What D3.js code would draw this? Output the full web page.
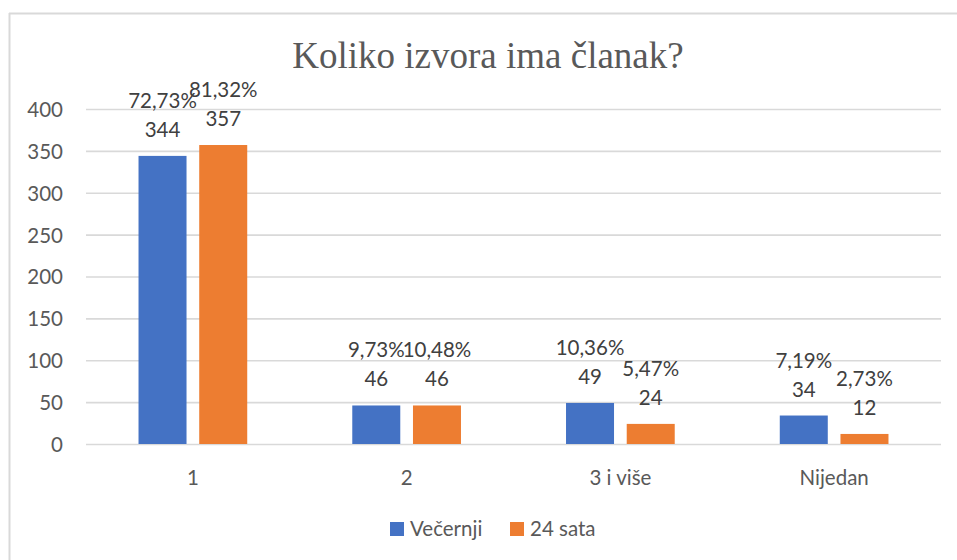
<!DOCTYPE html>
<html><head><meta charset="utf-8">
<script src="https://cdn.jsdelivr.net/npm/d3@7"></script>
<style>html,body{margin:0;padding:0;background:#fff;}svg{display:block;}</style>
</head><body>
<script>
const categories = ["1", "2", "3 i više", "Nijedan"];
const seriesNames = ["Večernji", "24 sata"];
const vecernjiValues = [344, 46, 49, 34];
const sataValues = [357, 46, 24, 12];
const vecernjiPct = ["72,73%", "9,73%", "10,36%", "7,19%"];
const sataPct = ["81,32%", "10,48%", "5,47%", "2,73%"];
const yTicks = [0, 50, 100, 150, 200, 250, 300, 350, 400];
const colors = ["#4472C4", "#ED7D31"];

const W = 957, H = 560;
const svg = d3.select("body").append("svg").attr("width", W).attr("height", H);
const font = "Lato, 'Open Sans', sans-serif";
const fs = 20.5;
const textColor = "#595959";

// chart border (top and left visible)
svg.append("line").attr("x1", 9).attr("x2", W).attr("y1", 13.5).attr("y2", 13.5).attr("stroke", "#D9D9D9").attr("stroke-width", 2);
svg.append("line").attr("x1", 9.5).attr("x2", 9.5).attr("y1", 13).attr("y2", H).attr("stroke", "#D9D9D9").attr("stroke-width", 2);

const plot = {left: 86, right: 941, top: 109, bottom: 444};
const x = d3.scaleBand().domain(categories).range([plot.left, plot.right]).paddingInner(0).paddingOuter(0);
const y = d3.scaleLinear().domain([0, 400]).range([plot.bottom, plot.top]);
const barW = 48, gap = 12.7;

svg.append("text").attr("x", 488).attr("y", 68).attr("text-anchor", "middle")
  .attr("font-family", "'Liberation Serif', 'Times New Roman', serif").attr("font-size", 37)
  .attr("fill", textColor).text("Koliko izvora ima članak?");

// gridlines
const yAxis = d3.axisLeft(y).tickValues(yTicks).tickSize(-(plot.right - plot.left)).tickPadding(23);
const ga = svg.append("g").attr("transform", `translate(${plot.left},0)`).call(yAxis);
ga.select(".domain").remove();
ga.selectAll(".tick line").attr("stroke", "#D9D9D9").attr("stroke-width", 1.6);
ga.selectAll(".tick text").attr("font-family", font).attr("font-size", fs).attr("fill", textColor).attr("dy", "0.36em");

// x axis labels
const xAxis = d3.axisBottom(x).tickSize(0).tickPadding(26);
const gx = svg.append("g").attr("transform", `translate(0,${plot.bottom})`).call(xAxis);
gx.select(".domain").remove();
gx.selectAll(".tick text").attr("font-family", font).attr("font-size", fs).attr("fill", textColor);

const series = [
  {name: seriesNames[0], values: vecernjiValues, pct: vecernjiPct, color: colors[0], off: -gap/2 - barW},
  {name: seriesNames[1], values: sataValues, pct: sataPct, color: colors[1], off: gap/2}
];

series.forEach(s => {
  const g = svg.append("g");
  categories.forEach((c, i) => {
    const cx = x(c) + x.bandwidth()/2 + s.off;
    const v = s.values[i];
    g.append("rect").attr("x", cx).attr("y", y(v)).attr("width", barW).attr("height", y(0) - y(v))
      .attr("fill", s.color);
    const lx = cx + barW/2;
    g.append("text").attr("x", lx).attr("y", y(v) - 19).attr("text-anchor", "middle")
      .attr("font-family", font).attr("font-size", fs).attr("fill", "#404040").text(v);
    g.append("text").attr("x", lx).attr("y", y(v) - 48).attr("text-anchor", "middle")
      .attr("font-family", font).attr("font-size", fs).attr("fill", "#404040").text(s.pct[i]);
  });
});

// legend
const leg = svg.append("g");
const legItems = [{x: 390, name: seriesNames[0], color: colors[0]}, {x: 510, name: seriesNames[1], color: colors[1]}];
legItems.forEach(d => {
  leg.append("rect").attr("x", d.x).attr("y", 522).attr("width", 14).attr("height", 14).attr("fill", d.color);
  leg.append("text").attr("x", d.x + 20).attr("y", 535.5).attr("font-family", font).attr("font-size", fs)
    .attr("fill", textColor).text(d.name);
});
</script>
</body></html>
